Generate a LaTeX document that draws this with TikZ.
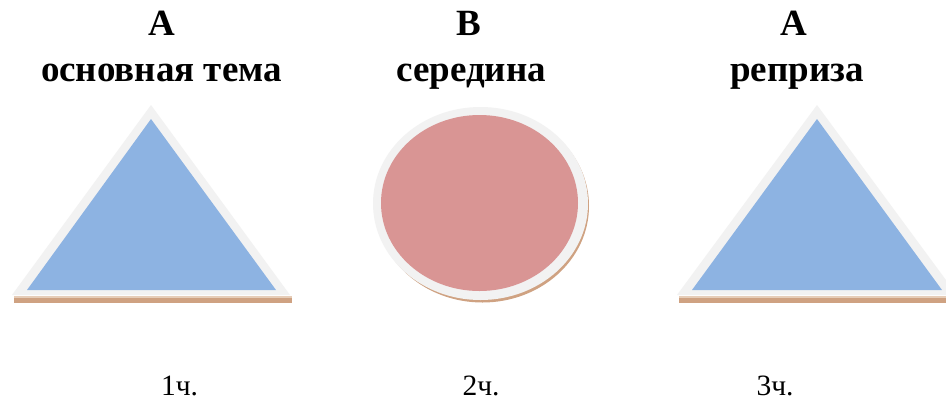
\documentclass[tikz,border=0pt]{standalone}
\usepackage{fontspec}
\setmainfont{Liberation Serif}
\definecolor{triblue}{HTML}{8DB3E2}
\definecolor{cirpink}{HTML}{D99594}
\definecolor{framegray}{HTML}{F2F2F2}
\definecolor{shadebrown}{HTML}{CFA282}
\definecolor{shadelight}{HTML}{E6CDB8}
\tikzset{
  headtxt/.style={anchor=base, inner sep=0pt, font=\fontsize{37}{44}\selectfont\bfseries},
  parttxt/.style={anchor=base, inner sep=0pt, font=\fontsize{29.5}{35}\selectfont},
}
\begin{document}
\begin{tikzpicture}[x=1pt,y=-1pt]
\useasboundingbox (0,0) rectangle (946,408);
\clip (0,0) rectangle (946,408);
\fill[white] (0,0) rectangle (946,408);
% left triangle
\fill[shadebrown] (14,297) rectangle (292,303);
\fill[shadelight] (14,296) rectangle (292,298);
\fill[framegray] (151,105) -- (12,295) -- (290,295) -- cycle;
\fill[triblue] (151,119) -- (27,290) -- (276,290) -- cycle;
% circle
\fill[shadebrown] (482.5,206) ellipse [x radius=106.5, y radius=96.5];
\fill[framegray] (480.5,203.5) ellipse [x radius=107.5, y radius=96.5];
\fill[cirpink] (479.5,203) ellipse [x radius=98.5, y radius=88];
% right triangle
\fill[shadebrown] (679,297) rectangle (960,303);
\fill[shadelight] (679,296) rectangle (960,298);
\fill[framegray] (817,105) -- (677,295) -- (957,295) -- cycle;
\fill[triblue] (817,119) -- (692,290) -- (942,290) -- cycle;
% texts
\node[headtxt] (a1) at (161.5,35) {А};
\node[headtxt] (t1) at (161.5,81) {основная тема};
\node[headtxt] (b) at (468.5,35) {В};
\node[headtxt] (t2) at (471,81) {середина};
\node[headtxt] (a2) at (794,35) {А};
\node[headtxt] (t3) at (797,81) {реприза};
\node[parttxt] (p1) at (179.5,395) {1ч.};
\node[parttxt] (p2) at (481,395) {2ч.};
\node[parttxt] (p3) at (775,395) {3ч.};
\end{tikzpicture}
\end{document}
